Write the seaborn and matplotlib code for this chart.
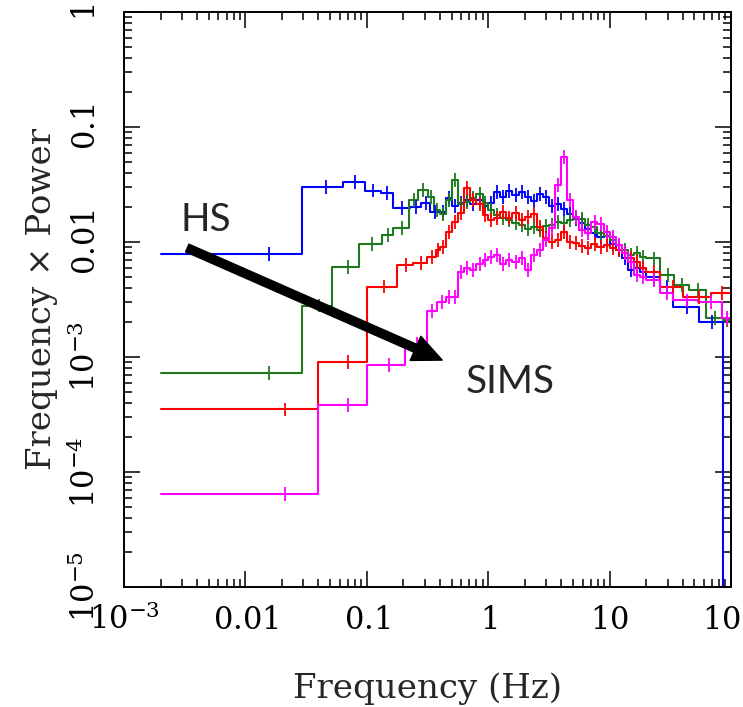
import matplotlib
matplotlib.use("Agg")
import numpy as np
import pandas as pd
import matplotlib.pyplot as plt
import seaborn as sns
from matplotlib.ticker import LogLocator, NullFormatter

# bin edges (Hz) and frequency x power per bin
hs_edges = [0.002, 0.029, 0.064, 0.097, 0.13, 0.165, 0.228, 0.28, 0.333,
            0.4, 0.45, 0.5, 0.56, 0.63, 0.71, 0.8, 0.9, 1.0, 1.12, 1.26, 1.41,
            1.58, 1.78, 2.0, 2.24, 2.51, 2.82, 3.16, 3.55, 3.98, 4.47, 5.01,
            5.62, 6.31, 7.08, 7.94, 8.91, 10.0, 11.2, 12.6, 14.1, 15.8, 17.8,
            20.0, 26.0, 33.0, 54.0, 86.0, 100.0]
hs_power = [0.0079, 0.030, 0.033, 0.028, 0.0267, 0.0198, 0.0202, 0.0218, 0.0182,
            0.0182, 0.0241, 0.0206, 0.0218, 0.0232, 0.0214, 0.0232, 0.0206,
            0.0218, 0.0272, 0.0246, 0.0277, 0.0256, 0.0272, 0.0246, 0.0227,
            0.0261, 0.0246, 0.0206, 0.0214, 0.0194, 0.0175, 0.0158, 0.0146,
            0.0130, 0.0120, 0.0110, 0.0113, 0.0096, 0.0085, 0.0073, 0.0057,
            0.0059, 0.0055,
            0.0050, 0.0041, 0.0027, 0.0020, 1e-6]

hims1_edges = [0.002, 0.029, 0.052, 0.087, 0.134, 0.165, 0.224, 0.265, 0.32, 0.36,
               0.4, 0.45, 0.5, 0.56, 0.63, 0.71, 0.8, 0.9, 1.0, 1.12, 1.26, 1.41,
               1.58, 1.78, 2.0, 2.24, 2.51, 2.82, 3.16, 3.55, 3.98, 4.47, 5.01,
               5.62, 6.31, 7.08, 7.94, 8.91, 10.0, 11.2, 12.6, 14.1, 15.8, 17.8,
               20.0, 26.0, 34.0, 45.0, 62.0, 86.0, 100.0]
hims1_power = [0.00073, 0.0028, 0.0061, 0.0096, 0.0115, 0.0132, 0.0232, 0.0283,
               0.0246, 0.0190,
               0.0175, 0.0232, 0.0346, 0.0214, 0.0223, 0.0241, 0.0261, 0.0218,
               0.0190, 0.0172, 0.0162, 0.0155, 0.0146, 0.0141, 0.0130, 0.0135,
               0.0127, 0.0138, 0.0141, 0.0149, 0.0146, 0.0155, 0.0162, 0.0158,
               0.0141, 0.0135, 0.0120, 0.0113, 0.0104, 0.0094, 0.0085, 0.0077,
               0.0080, 0.0074,
               0.0072, 0.0052, 0.0042, 0.0038, 0.0022, 0.0021]

hims2_edges = [0.002, 0.040, 0.1, 0.178, 0.241, 0.315, 0.37,
               0.4, 0.45, 0.5, 0.56, 0.63, 0.71, 0.8, 0.9, 1.0, 1.12, 1.26, 1.41,
               1.58, 1.78, 2.0, 2.24, 2.51, 2.82, 3.16, 3.55, 3.98, 4.47, 5.01,
               5.62, 6.31, 7.08, 7.94, 8.91, 10.0, 11.2, 12.6, 14.1, 15.8, 17.8,
               20.0, 26.0, 40.0, 68.0, 100.0]
hims2_power = [0.00035, 0.0009, 0.0041, 0.0063, 0.0066, 0.0074, 0.0085,
               0.0091, 0.0122, 0.0149, 0.0179, 0.0295, 0.0232, 0.0214, 0.0172,
               0.0155, 0.0162, 0.0182, 0.0162, 0.0179, 0.0155, 0.0165, 0.0175,
               0.0135, 0.0108, 0.0100, 0.0104, 0.0122, 0.0100, 0.0098, 0.0092,
               0.0089, 0.0096, 0.0091, 0.0094, 0.0089, 0.0085, 0.0080, 0.0073,
               0.0067, 0.0059,
               0.0055, 0.0041, 0.0033, 0.0036]

sims_edges = [0.002, 0.040, 0.1, 0.207, 0.315, 0.38,
              0.45, 0.5, 0.56, 0.63, 0.71, 0.8, 0.9, 1.0, 1.12, 1.26, 1.41,
              1.58, 1.78, 2.0, 2.24, 2.51, 2.82, 3.16, 3.55, 3.98, 4.47, 5.01,
              5.62, 6.31, 7.08, 7.94, 8.91, 10.0, 11.2, 12.6, 14.1, 15.8, 17.8,
              20.0, 26.0, 33.0, 53.0, 85.0, 100.0]
sims_power = [6.4e-5, 0.00038, 0.00085, 0.0013, 0.0025, 0.0030,
              0.0033, 0.0033, 0.0055, 0.0059, 0.0057, 0.0064, 0.0070, 0.0074,
              0.0077, 0.0064, 0.0070, 0.0067, 0.0073, 0.0057, 0.0077, 0.0085,
              0.0104, 0.0132, 0.0313, 0.0548, 0.0232, 0.0165, 0.0127, 0.0120,
              0.0149, 0.0143, 0.0122, 0.0110, 0.0094, 0.0080, 0.0067, 0.0052,
              0.0050,
              0.0047, 0.0036, 0.0031, 0.0030, 0.0022]

states = ["HS", "HIMS 1", "HIMS 2", "SIMS"]
colors = ["#0000ff", "#1f7a1f", "#ff0000", "#ff00ff"]
err_dex = 0.06  # half-length of the error ticks

x_ticks = [1e-3, 1e-2, 1e-1, 1, 10, 100]
x_labels = ["$10^{-3}$", "$0.01$", "$0.1$", "$1$", "$10$", "$100$"]
y_ticks = [1e-5, 1e-4, 1e-3, 1e-2, 1e-1, 1]
y_labels = ["$10^{-5}$", "$10^{-4}$", "$10^{-3}$", "$0.01$", "$0.1$", "$1$"]

curves = {
    "HS": (hs_edges, hs_power),
    "HIMS 1": (hims1_edges, hims1_power),
    "HIMS 2": (hims2_edges, hims2_power),
    "SIMS": (sims_edges, sims_power),
}

rows = []
for name in states:
    edges, power = curves[name]
    vals = power + [power[-1]]
    for f, p in zip(edges, vals):
        rows.append({"freq": f, "power": p, "state": name})
df = pd.DataFrame(rows)

sns.set_style("ticks")
plt.rcParams["font.family"] = ["DejaVu Serif"]
plt.rcParams["mathtext.fontset"] = "dejavuserif"

fig = plt.figure(figsize=(7.43, 7.07), dpi=100)
ax = fig.add_axes([124 / 743, 1 - 587 / 707, 607 / 743, 575 / 707])
ax.set_xscale("log")
ax.set_yscale("log")

sns.lineplot(data=df, x="freq", y="power", hue="state", hue_order=states,
             palette=colors, drawstyle="steps-post", estimator=None, sort=False,
             legend=False, linewidth=1.5, ax=ax)

fac = 10 ** err_dex
for name, c in zip(states, colors):
    edges, power = curves[name]
    e = np.array(edges)
    p = np.array(power)
    centers = (e[:-1] + e[1:]) / 2
    ax.errorbar(centers, p, yerr=[p - p / fac, p * fac - p], fmt="none",
                ecolor=c, elinewidth=1.3, capsize=0)

ax.set_xlim(1e-3, 100)
ax.set_ylim(1e-5, 1)
ax.set_xticks(x_ticks, x_labels)
ax.set_yticks(y_ticks, y_labels)
for axis in (ax.xaxis, ax.yaxis):
    axis.set_minor_locator(LogLocator(base=10, subs=range(2, 10), numticks=20))
    axis.set_minor_formatter(NullFormatter())

ax.tick_params(which="both", direction="in", top=True, right=True,
               width=1.1, colors="black")
ax.tick_params(which="major", length=11.5)
ax.tick_params(which="minor", length=6)
ax.tick_params(axis="x", labelsize=22, pad=30)
ax.tick_params(axis="y", labelsize=22, pad=15.5)
for lbl in ax.get_xticklabels():
    lbl.set_verticalalignment("baseline")
for lbl in ax.get_yticklabels():
    lbl.set_rotation(90)
    lbl.set_verticalalignment("center")
    lbl.set_horizontalalignment("right")
for s in ax.spines.values():
    s.set_linewidth(1.4)
    s.set_color("black")

ax.set_xlabel("Frequency (Hz)", fontsize=24.5)
ax.xaxis.set_label_coords(0.5, -0.149)
ax.set_ylabel("Frequency \u00d7 Power", fontsize=24.5)
ax.yaxis.set_label_coords(-0.108, 0.5)

ax.text(0.00475, 0.01247, "HS", fontsize=28, family="Lato",
        ha="center", va="baseline")
ax.text(1.52, 0.000486, "SIMS", fontsize=28, family="Lato",
        ha="center", va="baseline")
ax.annotate("", xy=(0.418, 0.00094), xytext=(0.00332, 0.00887),
            arrowprops=dict(facecolor="black", edgecolor="black", width=6,
                            headwidth=19, headlength=21, shrink=0))

fig.savefig("out.png", dpi=100)
